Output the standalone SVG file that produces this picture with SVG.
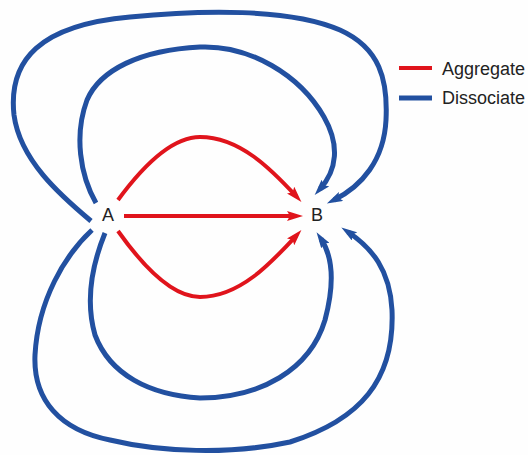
<svg xmlns="http://www.w3.org/2000/svg" width="528" height="455" viewBox="0 0 528 455">
<style>
.blue{fill:none;stroke:#2250a0;stroke-width:5;stroke-linecap:butt}
.red{fill:none;stroke:#e0141c;stroke-width:4;stroke-linecap:butt}
.lbl{font-family:"Liberation Sans",Arial,sans-serif;font-size:18px;fill:#222}
</style>
<defs>
<marker id="ab" viewBox="0 0 16 10" markerWidth="16" markerHeight="10" markerUnits="userSpaceOnUse" refX="8" refY="5" orient="auto">
<path d="M0,0 L16,5 L0,10 L3,5 z" fill="#2250a0"/>
</marker>
<marker id="ar" viewBox="0 0 16 10" markerWidth="16" markerHeight="10" markerUnits="userSpaceOnUse" refX="8" refY="5" orient="auto">
<path d="M0,0 L16,5 L0,10 L3,5 z" fill="#e0141c"/>
</marker>
</defs>
<rect width="528" height="455" fill="#fefefe"/>
<g id="connectors">
<path class="blue" marker-end="url(#ab)" d="M91,221 C60,195 20,160 14,115 C8,60 40,25 130,17 C200,10 290,8 340,30 C380,48 388,80 386,120 C384,160 362,186 334,200"/>
<path class="blue" marker-end="url(#ab)" d="M96,203 C80,175 74,135 87,100 C100,70 140,50 200,47 C250,45 300,75 324,117 C340,145 337,170 320,189"/>
<path class="blue" marker-end="url(#ab)" d="M92,230 C65,255 38,300 35,355 C33,400 60,430 110,440 C160,452 230,455 290,442 C360,420 395,380 392,310 C390,270 372,248 348,232"/>
<path class="blue" marker-end="url(#ab)" d="M105,233 C92,265 85,300 95,335 C110,375 150,395 200,398 C260,398 310,370 325,320 C333,290 335,260 321,239"/>
<path class="red" marker-end="url(#ar)" d="M118,200 C140,170 170,137 200,137 C240,137 272,170 296,196"/>
<path class="red" marker-end="url(#ar)" d="M118,231 C140,262 170,297 200,297 C240,297 272,262 296,236"/>
<path class="red" marker-end="url(#ar)" d="M124,216 L295,216"/>
</g>
<g id="node-A"><text class="lbl" x="108" y="221" text-anchor="middle">A</text></g>
<g id="node-B"><text class="lbl" x="317" y="221" text-anchor="middle">B</text></g>
<g id="legend">
<line class="red" x1="399" y1="68" x2="432" y2="68"/>
<text class="lbl" x="442" y="75">Aggregate</text>
<line class="blue" x1="399" y1="98" x2="432" y2="98"/>
<text class="lbl" x="442" y="104">Dissociate</text>
</g>
</svg>
